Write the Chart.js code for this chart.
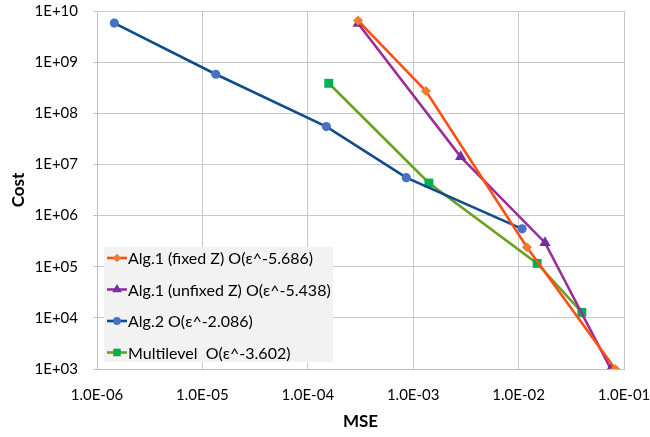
<!DOCTYPE html>
<html>
<head>
<meta charset="utf-8">
<script src="https://cdn.jsdelivr.net/npm/chart.js@4/dist/chart.umd.min.js"></script>
<style>
  html, body { margin: 0; padding: 0; background: #fff; }
  #wrap { width: 650px; height: 437px; }
</style>
</head>
<body>
<div id="wrap"><canvas id="chart" width="650" height="437"></canvas></div>
<script>
"use strict"

// values
const xTicks = [1e-6, 1e-5, 1e-4, 1e-3, 1e-2, 1e-1]
const yTicks = [1e3, 1e4, 1e5, 1e6, 1e7, 1e8, 1e9, 1e10]

const fixedX   = [3.0e-4, 1.32e-3, 1.2e-2, 8.26e-2]
const fixedY   = [6.5e9, 2.73e8, 2.4e5, 1.0e3]
const unfixedX = [3.0e-4, 2.82e-3, 1.78e-2, 7.5e-2]
const unfixedY = [5.7e9, 1.41e7, 2.95e5, 1.0e3]
const alg2X    = [1.46e-6, 1.34e-5, 1.5e-4, 8.6e-4, 1.08e-2]
const alg2Y    = [5.8e9, 5.8e8, 5.5e7, 5.5e6, 5.5e5]
const multiX   = [1.58e-4, 1.41e-3, 1.5e-2, 3.98e-2]
const multiY   = [3.86e8, 4.33e6, 1.16e5, 1.28e4]

const labels = [
  "Alg.1 (fixed Z) O(\u03b5^-5.686)",
  "Alg.1 (unfixed Z) O(\u03b5^-5.438)",
  "Alg.2 O(\u03b5^-2.086)",
  "Multilevel  O(\u03b5^-3.602)"
]

const FONT = "Lato, 'Liberation Sans', sans-serif"
const pts = (xs, ys) => xs.map((x, i) => ({x: x, y: ys[i]}))
const exp = v => Math.round(Math.log10(v))
const pad2 = n => String(Math.abs(n)).padStart(2, '0')

const mk = (label, data, line, fill, style, r) => ({
  label, data,
  borderColor: line, backgroundColor: fill,
  pointBackgroundColor: fill, pointBorderColor: fill, pointBorderWidth: 0,
  pointStyle: style, pointRadius: r, pointHoverRadius: r,
  borderWidth: 2.6, tension: 0, showLine: true
})

const datasets = [
  mk(labels[0], pts(fixedX, fixedY), "#ff4f12", "#f07c30", "rectRot", 5),
  mk(labels[1], pts(unfixedX, unfixedY), "#9b2d9b", "#7030a0", "triangle", 6.5),
  mk(labels[2], pts(alg2X, alg2Y), "#0f4c8a", "#4472c4", "circle", 4.6),
  mk(labels[3], pts(multiX, multiY), "#6aa121", "#00b050", "rect", 6.3)
]

// legend drawn inside the plot, bottom-left
const boxLegend = {
  id: "boxLegend",
  afterDatasetsDraw(chart) {
    const {ctx, chartArea} = chart
    const x0 = chartArea.left + 7, y0 = chartArea.top + 236
    ctx.save()
    ctx.fillStyle = "#f2f2f2"
    ctx.fillRect(x0, y0, 229, 115)
    ctx.font = "16px " + FONT
    ctx.textBaseline = "middle"
    chart.data.datasets.forEach((ds, i) => {
      const cy = y0 + 11 + i * 31.5
      ctx.strokeStyle = ds.borderColor
      ctx.lineWidth = 2.6
      ctx.beginPath(); ctx.moveTo(x0 + 3, cy); ctx.lineTo(x0 + 23, cy); ctx.stroke()
      ctx.fillStyle = ds.pointBackgroundColor
      Chart.helpers.drawPoint(ctx, {pointStyle: ds.pointStyle, radius: ds.pointRadius * 0.85, borderWidth: 0}, x0 + 13, cy)
      ctx.fillStyle = "#000"
      ctx.fillText(ds.label, x0 + 24, cy + 1)
    })
    ctx.restore()
  }
}

new Chart("chart", {
  type: "line",
  data: { datasets },
  options: {
    responsive: false,
    animation: false,
    layout: { padding: { left: 0, right: 26, top: 11, bottom: 0 } },
    plugins: { legend: { display: false }, tooltip: { enabled: false } },
    scales: {
      x: {
        type: "logarithmic", min: 1e-6, max: 1e-1,
        afterBuildTicks: s => { s.ticks = xTicks.map(v => ({value: v})) },
        afterFit: s => { s.height = 68; s.paddingLeft = 0; s.paddingRight = 0 },
        ticks: { color: "#000", font: { family: FONT, size: 15 }, padding: 17, maxRotation: 0,
                 callback: v => "1.0E-" + pad2(exp(v)) },
        grid: { color: "#c8c8c8", drawTicks: false },
        border: { color: "#bfbfbf" },
        title: { display: true, text: "MSE", color: "#000", font: { family: FONT, size: 17, weight: "bold" },
                 padding: { top: 0, bottom: 5 } }
      },
      y: {
        type: "logarithmic", min: 1e3, max: 1e10,
        afterBuildTicks: s => { s.ticks = yTicks.map(v => ({value: v})) },
        afterFit: s => { s.width = 97; s.paddingTop = 0; s.paddingBottom = 0 },
        ticks: { color: "#000", font: { family: FONT, size: 15 }, padding: 15,
                 callback: v => "1E+" + pad2(exp(v)) },
        grid: { color: "#c8c8c8", tickLength: 4 },
        border: { color: "#bfbfbf" },
        title: { display: true, text: "Cost", color: "#000", font: { family: FONT, size: 17, weight: "bold" },
                 padding: { top: 8, bottom: 0 } }
      }
    }
  },
  plugins: [boxLegend]
})
</script>
</body>
</html>
